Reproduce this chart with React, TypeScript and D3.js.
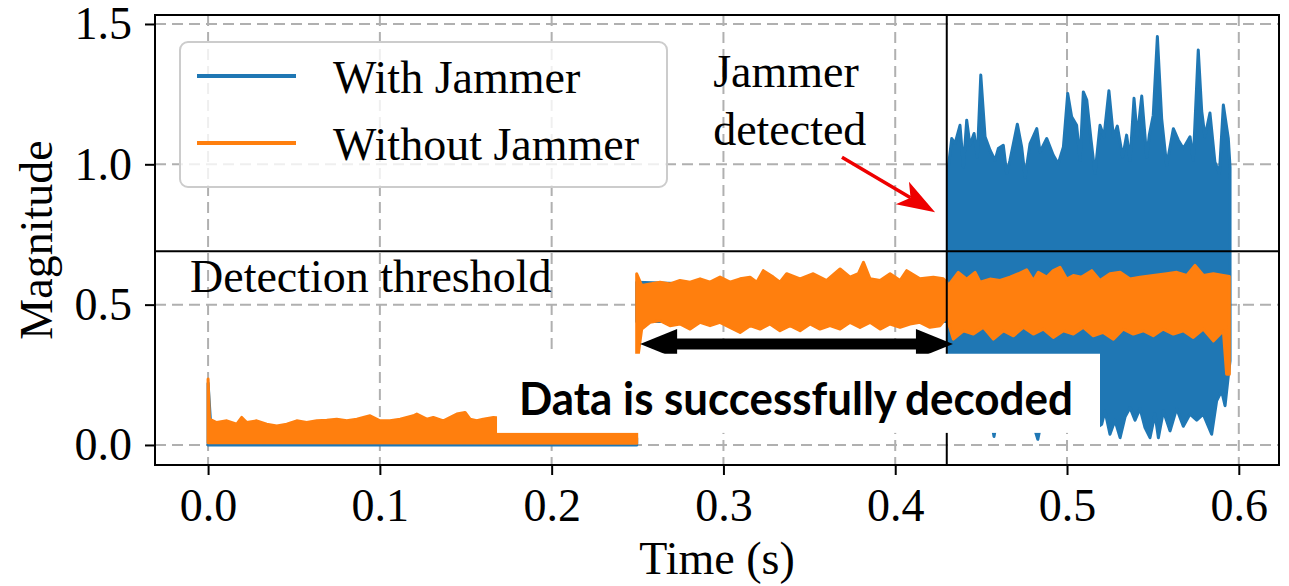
import * as d3 from "d3";
import { useEffect, useRef } from "react";

type Pt = [number, number];

// envelopes of the two traces, [time (s), magnitude]
const blueQuietUpper: Pt[] = [[0, 0.22], [0.002, 0.025], [0.1, 0.02], [0.2495, 0.025]];
const blueQuietLower: Pt[] = [[0, 0.0], [0.2495, 0.0]];
const bluePreUpper: Pt[] = [[0.2495, 0.58], [0.3, 0.57], [0.3843, 0.568], [0.4309, 0.57]];
const bluePreLower: Pt[] = [[0.2495, 0.44], [0.4309, 0.44]];

const blueJamUpper: Pt[] = [
  [0.4309, 0.99], [0.4329, 1.092], [0.4348, 1.074], [0.4377, 1.139], [0.4397, 0.99],
  [0.4416, 1.157], [0.4435, 1.068], [0.4459, 1.11], [0.4478, 1.026], [0.4498, 1.318],
  [0.4523, 1.098], [0.4552, 1.05], [0.4581, 1.014], [0.46, 1.056], [0.4629, 1.068],
  [0.4649, 0.967], [0.4668, 1.014], [0.4711, 1.143], [0.4736, 1.062], [0.4756, 0.955],
  [0.4785, 1.074], [0.4824, 1.127], [0.4843, 1.044], [0.4882, 1.092], [0.492, 1.032],
  [0.4949, 1.002], [0.4979, 1.062], [0.5004, 1.252], [0.5027, 1.169], [0.5056, 1.139],
  [0.5076, 1.014], [0.5095, 1.258], [0.5115, 1.229], [0.514, 1.086], [0.5163, 0.967],
  [0.5192, 1.139], [0.5215, 1.098], [0.5244, 1.262], [0.527, 1.098], [0.5293, 1.136],
  [0.5324, 1.026], [0.5347, 1.104], [0.5367, 1.014], [0.539, 1.235], [0.5409, 1.098],
  [0.5435, 1.243], [0.5464, 1.026], [0.5479, 1.104], [0.5502, 1.175], [0.5526, 1.455],
  [0.5551, 1.163], [0.558, 0.996], [0.5619, 1.127], [0.5648, 1.086], [0.5677, 1.056],
  [0.5716, 1.098], [0.5735, 1.014], [0.5764, 1.407], [0.5784, 1.19], [0.5803, 1.098],
  [0.5832, 1.183], [0.5861, 1.008], [0.5887, 0.967], [0.591, 1.211], [0.5939, 1.092],
  [0.5949, 0.99],
];
const blueJamLower: Pt[] = [
  [0.4309, 0.2], [0.436, 0.14], [0.442, 0.18], [0.448, 0.1], [0.454, 0.16],
  [0.4575, 0.03], [0.461, 0.15], [0.468, 0.12], [0.474, 0.17], [0.48, 0.08],
  [0.483, 0.02], [0.487, 0.14], [0.493, 0.1], [0.5, 0.15], [0.506, 0.09],
  [0.512, 0.13], [0.517, 0.06], [0.5202, 0.074], [0.5221, 0.121], [0.525, 0.038],
  [0.5279, 0.088], [0.5309, 0.026], [0.5338, 0.1], [0.5367, 0.133], [0.5396, 0.088],
  [0.5425, 0.13], [0.5454, 0.062], [0.5483, 0.026], [0.5512, 0.11], [0.5532, 0.026],
  [0.5561, 0.121], [0.56, 0.05], [0.5638, 0.13], [0.5677, 0.067], [0.5716, 0.11],
  [0.5755, 0.088], [0.5793, 0.11], [0.5842, 0.038], [0.5871, 0.157], [0.59, 0.193],
  [0.592, 0.14], [0.5939, 0.246], [0.5949, 0.3],
];

const orangeQuietUpper: Pt[] = [
  [0, 0.235], [0.0008, 0.092], [0.005, 0.08], [0.0109, 0.086], [0.0167, 0.074],
  [0.0196, 0.098], [0.0225, 0.08], [0.0283, 0.086], [0.0341, 0.074], [0.04, 0.068],
  [0.0458, 0.074], [0.0516, 0.086], [0.0574, 0.08], [0.0633, 0.086], [0.0691, 0.088],
  [0.0749, 0.092], [0.0807, 0.086], [0.0866, 0.092], [0.0904, 0.098], [0.0943, 0.104],
  [0.1001, 0.086], [0.1059, 0.086], [0.1118, 0.092], [0.1195, 0.104], [0.1215, 0.11],
  [0.1273, 0.092], [0.1311, 0.098], [0.137, 0.086], [0.1448, 0.11], [0.1496, 0.116],
  [0.1525, 0.092], [0.1564, 0.086], [0.1602, 0.092], [0.1661, 0.098], [0.18, 0.09],
  [0.2, 0.1], [0.22, 0.09], [0.24, 0.1], [0.2495, 0.09],
];
const orangeQuietLower: Pt[] = [[0, 0.008], [0.2495, 0.006]];

const orangeMainUpper: Pt[] = [
  [0.2495, 0.61], [0.2524, 0.568], [0.2573, 0.574], [0.2631, 0.58], [0.2689, 0.574],
  [0.2747, 0.586], [0.2806, 0.58], [0.2864, 0.592], [0.2922, 0.58], [0.298, 0.598],
  [0.3038, 0.58], [0.3097, 0.592], [0.3155, 0.598], [0.3194, 0.58], [0.3232, 0.621],
  [0.329, 0.598], [0.3329, 0.58], [0.3368, 0.61], [0.3446, 0.592], [0.3523, 0.61],
  [0.3601, 0.586], [0.3679, 0.627], [0.3737, 0.598], [0.3785, 0.61], [0.3815, 0.651],
  [0.3853, 0.592], [0.3912, 0.586], [0.397, 0.61], [0.4028, 0.586], [0.4067, 0.621],
  [0.4144, 0.592], [0.4222, 0.598], [0.428, 0.592], [0.43, 0.58], [0.4309, 0.568],
  [0.4367, 0.615], [0.4416, 0.591], [0.4465, 0.615], [0.4494, 0.58], [0.4552, 0.591],
  [0.461, 0.586], [0.4668, 0.598], [0.4717, 0.61], [0.4765, 0.624], [0.4804, 0.586],
  [0.4833, 0.615], [0.4882, 0.598], [0.492, 0.621], [0.4959, 0.633], [0.4998, 0.591],
  [0.5037, 0.604], [0.5085, 0.598], [0.5144, 0.621], [0.5192, 0.586], [0.525, 0.61],
  [0.5309, 0.615], [0.5367, 0.591], [0.5425, 0.598], [0.5502, 0.604], [0.558, 0.61],
  [0.5639, 0.615], [0.5697, 0.604], [0.5745, 0.64], [0.5794, 0.604], [0.5852, 0.61],
  [0.591, 0.604], [0.5945, 0.6],
];
const orangeMainLower: Pt[] = [
  [0.2495, 0.28], [0.2524, 0.413], [0.2573, 0.437], [0.2631, 0.443], [0.2689, 0.425],
  [0.2747, 0.431], [0.2806, 0.413], [0.2864, 0.437], [0.2922, 0.425], [0.298, 0.437],
  [0.3038, 0.419], [0.3097, 0.401], [0.3155, 0.425], [0.3213, 0.413], [0.3271, 0.431],
  [0.3329, 0.407], [0.3388, 0.425], [0.3446, 0.407], [0.3504, 0.431], [0.3562, 0.413],
  [0.362, 0.425], [0.3679, 0.413], [0.3737, 0.437], [0.3795, 0.419], [0.3853, 0.437],
  [0.3912, 0.413], [0.397, 0.431], [0.4028, 0.419], [0.4086, 0.431], [0.4144, 0.437],
  [0.4202, 0.419], [0.4261, 0.425], [0.43, 0.455], [0.4338, 0.377], [0.4397, 0.407],
  [0.4455, 0.395], [0.4513, 0.419], [0.4571, 0.377], [0.4629, 0.407], [0.4688, 0.389],
  [0.4746, 0.419], [0.4804, 0.395], [0.4862, 0.413], [0.492, 0.383], [0.4979, 0.407],
  [0.5037, 0.395], [0.5095, 0.419], [0.5153, 0.389], [0.5211, 0.401], [0.527, 0.377],
  [0.5328, 0.413], [0.5386, 0.395], [0.5444, 0.407], [0.5502, 0.389], [0.556, 0.413],
  [0.5619, 0.395], [0.5677, 0.407], [0.5735, 0.383], [0.5793, 0.413], [0.5852, 0.371],
  [0.591, 0.407], [0.5929, 0.252], [0.5945, 0.252],
];

const seriesNames = ["With Jammer", "Without Jammer"];
const seriesColors = ["#1f77b4", "#ff7f0e"];
const xTicks = [0, 0.1, 0.2, 0.3, 0.4, 0.5, 0.6];
const yTicks = [0, 0.5, 1.0, 1.5];

const jammerTime = 0.43;
const threshold = 0.69;

const serif = "'Liberation Serif', 'Times New Roman', serif";

export default function App() {
  const xAxisRef = useRef<SVGGElement>(null);
  const yAxisRef = useRef<SVGGElement>(null);

  const margin = { left: 155, top: 15, right: 1279, bottom: 465 };
  const x = d3.scaleLinear().domain([-0.0309, 0.6234]).range([margin.left, margin.right]);
  const y = d3.scaleLinear().domain([-0.0714, 1.532]).range([margin.bottom, margin.top]);

  useEffect(() => {
    const xa = d3
      .axisBottom(x)
      .tickValues(xTicks)
      .tickFormat(d3.format(".1f"))
      .tickSize(10)
      .tickPadding(13);
    const ya = d3
      .axisLeft(y)
      .tickValues(yTicks)
      .tickFormat(d3.format(".1f"))
      .tickSize(10)
      .tickPadding(13);
    const gx = d3.select(xAxisRef.current!).call(xa);
    const gy = d3.select(yAxisRef.current!).call(ya);
    [gx, gy].forEach((g) => {
      g.select(".domain").remove();
      g.selectAll(".tick line").attr("stroke", "#000").attr("stroke-width", 2);
      g.selectAll(".tick text")
        .attr("fill", "#000")
        .style("font-family", serif)
        .style("font-size", "46px");
    });
  }, []);

  const band = (upper: Pt[], lower: Pt[]) => {
    const pts = upper.concat(lower.slice().reverse()).map((p) => [x(p[0]), y(p[1])] as [number, number]);
    return d3.line()(pts) + "Z";
  };

  const blueBands = [
    band(blueQuietUpper, blueQuietLower),
    band(bluePreUpper, bluePreLower),
    band(blueJamUpper, blueJamLower),
  ];
  const orangeBands = [band(orangeQuietUpper, orangeQuietLower), band(orangeMainUpper, orangeMainLower)];

  // annotation anchors in data space
  const arrowL = x(0.2515);
  const arrowR = x(0.4336);
  const arrowY = y(0.36);
  const boxX0 = x(0.1682);
  const boxX1 = x(0.5192);
  const boxY0 = y(0.325);
  const boxY1 = y(0.043);

  const redTail: [number, number] = [x(0.369), y(1.025)];
  const redTip: [number, number] = [x(0.4232), y(0.829)];
  const dx = redTip[0] - redTail[0];
  const dy = redTip[1] - redTail[1];
  const len = Math.hypot(dx, dy);
  const ux = dx / len;
  const uy = dy / len;
  const headL = 38;
  const headW = 13;
  const base: [number, number] = [redTip[0] - ux * headL, redTip[1] - uy * headL];
  const notch: [number, number] = [redTip[0] - ux * headL * 0.75, redTip[1] - uy * headL * 0.75];
  const redHead = [
    redTip,
    [base[0] - uy * headW, base[1] + ux * headW],
    notch,
    [base[0] + uy * headW, base[1] - ux * headW],
  ];

  const headLen = 37;
  const headHalf = 15;

  return (
    <svg width={1289} height={586} style={{ position: "absolute", left: 0, top: 0, background: "#fff" }}>
      {/* grid */}
      <g stroke="#b0b0b0" strokeWidth={2} strokeDasharray="11,6">
        {xTicks.map((t) => (
          <line key={"gx" + t} x1={x(t)} x2={x(t)} y1={margin.top} y2={margin.bottom} />
        ))}
        {yTicks.map((t) => (
          <line key={"gy" + t} x1={margin.left} x2={margin.right} y1={y(t)} y2={y(t)} />
        ))}
      </g>

      {/* traces */}
      {blueBands.map((d, i) => (
        <path key={"b" + i} d={d} fill={seriesColors[0]} stroke={seriesColors[0]} strokeWidth={3} strokeLinejoin="round" />
      ))}
      {orangeBands.map((d, i) => (
        <path key={"o" + i} d={d} fill={seriesColors[1]} stroke={seriesColors[1]} strokeWidth={3} strokeLinejoin="round" />
      ))}

      {/* detection lines */}
      <line x1={margin.left} x2={margin.right} y1={y(threshold)} y2={y(threshold)} stroke="#000" strokeWidth={2} />
      <line x1={x(jammerTime)} x2={x(jammerTime)} y1={margin.top} y2={margin.bottom} stroke="#000" strokeWidth={2} />

      {/* frame + axes */}
      <rect
        x={margin.left}
        y={margin.top}
        width={margin.right - margin.left}
        height={margin.bottom - margin.top}
        fill="none"
        stroke="#000"
        strokeWidth={2}
      />
      <g ref={xAxisRef} transform={`translate(0,${margin.bottom})`} />
      <g ref={yAxisRef} transform={`translate(${margin.left},0)`} />

      {/* axis titles */}
      <text x={(margin.left + margin.right) / 2} y={574} textAnchor="middle" fontFamily={serif} fontSize={46}>
        Time (s)
      </text>
      <text
        transform={`translate(52,${(margin.top + margin.bottom) / 2}) rotate(-90)`}
        textAnchor="middle"
        fontFamily={serif}
        fontSize={46}
      >
        Magnitude
      </text>

      {/* legend */}
      <rect x={180} y={42} width={487} height={145} rx={8} fill="#fff" fillOpacity={0.8} stroke="#cccccc" strokeWidth={2} />
      {seriesNames.map((name, i) => (
        <g key={name}>
          <line x1={197} x2={296} y1={76 + i * 67} y2={76 + i * 67} stroke={seriesColors[i]} strokeWidth={4} />
          <text x={333} y={93 + i * 67} fontFamily={serif} fontSize={46}>
            {name}
          </text>
        </g>
      ))}

      <text x={x(-0.0105)} y={y(0.545)} fontFamily={serif} fontSize={46}>
        Detection threshold
      </text>

      {/* "Jammer detected" annotation */}
      <text fontFamily={serif} fontSize={46}>
        <tspan x={x(0.294)} y={y(1.275)}>Jammer</tspan>
        <tspan x={x(0.294)} y={y(1.068)}>detected</tspan>
      </text>
      <line x1={redTail[0]} y1={redTail[1]} x2={notch[0]} y2={notch[1]} stroke="#ee0000" strokeWidth={3.5} />
      <path d={d3.line()(redHead as [number, number][]) + "Z"} fill="#ee0000" />

      {/* double arrow + decoded box */}
      <line x1={arrowL + headLen - 2} x2={arrowR - headLen + 2} y1={arrowY} y2={arrowY} stroke="#000" strokeWidth={11} />
      <path
        d={`M${arrowL},${arrowY} L${arrowL + headLen},${arrowY - headHalf} L${arrowL + headLen},${arrowY + headHalf} Z`}
        fill="#000"
      />
      <path
        d={`M${arrowR},${arrowY} L${arrowR - headLen},${arrowY - headHalf} L${arrowR - headLen},${arrowY + headHalf} Z`}
        fill="#000"
      />
      <rect x={boxX0} y={boxY0} width={boxX1 - boxX0} height={boxY1 - boxY0} fill="#fff" />
      <g fontFamily="Lato, 'Open Sans', sans-serif" fontWeight="bold" fontSize={46} fill="#000">
        <text x={519} y={415} textLength={378} lengthAdjust="spacingAndGlyphs">
          Data is successfully
        </text>
        <text x={905} y={415} textLength={168} lengthAdjust="spacingAndGlyphs">
          decoded
        </text>
      </g>
    </svg>
  );
}
